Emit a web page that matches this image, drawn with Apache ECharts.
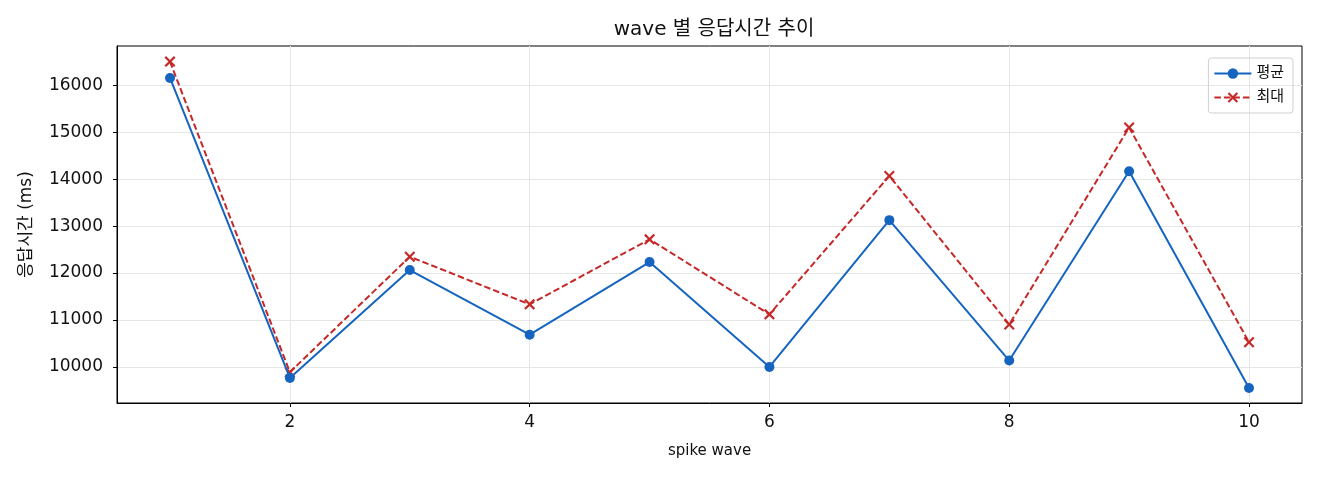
<!DOCTYPE html>
<html>
<head>
<meta charset="utf-8">
<title>wave 별 응답시간 추이</title>
<style>
  html, body { margin: 0; padding: 0; background: #fff; }
  #main { width: 1320px; height: 480px; }
</style>
</head>
<body>
<div id="main"></div>
<script src="https://cdn.jsdelivr.net/npm/echarts@6/dist/echarts.min.js"></script>
<script>
// data
var waves = [1, 2, 3, 4, 5, 6, 7, 8, 9, 10];
var avgMs = [16158, 9765, 12064, 10686, 12235, 10000, 13128, 10135, 14171, 9551];
var maxMs = [16507, 9887, 12348, 11333, 12718, 11120, 14070, 10904, 15103, 10526];
var xTicks = [2, 4, 6, 8, 10];
var yTicks = [10000, 11000, 12000, 13000, 14000, 15000, 16000];

var FONT = '"DejaVu Sans", "Noto Sans CJK KR", sans-serif';
var crossPath = 'path://M0,1.4L1.4,0L5,3.6L8.6,0L10,1.4L6.4,5L10,8.6L8.6,10L5,6.4L1.4,10L0,8.6L3.6,5Z';

function pairs(xs, ys) {
    var out = [];
    for (var i = 0; i < xs.length; i++) out.push([xs[i], ys[i]]);
    return out;
}

var myChart = echarts.init(document.getElementById('main'), null, { renderer: 'canvas' });

var option = {
    animation: false,
    textStyle: { fontFamily: FONT },
    title: {
        text: 'wave 별 응답시간 추이',
        left: 709,
        textAlign: 'center',
        top: 15,
        textStyle: { fontSize: 20, fontWeight: 'normal', color: '#111', fontFamily: FONT }
    },
    legend: {
        orient: 'vertical',
        right: 27,
        top: 58,
        itemWidth: 37,
        itemHeight: 13,
        itemGap: 9,
        padding: [8, 9, 8, 5],
        borderColor: '#d0d0d0',
        borderWidth: 1,
        borderRadius: 3,
        textStyle: { fontSize: 15, color: '#111', fontFamily: FONT },
        data: ['평균', '최대']
    },
    grid: {
        left: 117,
        right: 18,
        top: 46,
        bottom: 77,
        show: true,
        borderColor: '#000',
        borderWidth: 1,
        containLabel: false
    },
    xAxis: {
        type: 'value',
        min: 0.558,
        max: 10.442,
        name: 'spike wave',
        nameLocation: 'middle',
        nameGap: 41,
        nameTextStyle: { fontSize: 15, color: '#111', fontFamily: FONT },
        axisLine: { show: true, lineStyle: { color: '#000', width: 1 } },
        axisTick: { show: true, length: 4, lineStyle: { color: '#000' }, customValues: xTicks },
        axisLabel: { fontSize: 17, color: '#111', margin: 11, customValues: xTicks },
        splitLine: { show: true, lineStyle: { color: '#e6e6e6', width: 1 } }
    },
    yAxis: {
        type: 'value',
        min: 9230,
        max: 16840,
        name: '응답시간 (ms)',
        nameLocation: 'middle',
        nameGap: 82,
        nameTextStyle: { fontSize: 17, color: '#111', fontFamily: FONT },
        axisLine: { show: true, lineStyle: { color: '#000', width: 1 } },
        axisTick: { show: true, length: 4, lineStyle: { color: '#000' }, customValues: yTicks },
        axisLabel: {
            fontSize: 17, color: '#111', margin: 14, customValues: yTicks,
            formatter: function (v) { return String(v); }
        },
        splitLine: { show: true, lineStyle: { color: '#e6e6e6', width: 1 } }
    },
    series: [
        {
            name: '평균',
            type: 'line',
            data: pairs(waves, avgMs),
            symbol: 'circle',
            symbolSize: 10,
            itemStyle: { color: '#1565c0' },
            lineStyle: { color: '#1565c0', width: 2 },
            z: 3
        },
        {
            name: '최대',
            type: 'line',
            data: pairs(waves, maxMs),
            symbol: crossPath,
            symbolSize: 11,
            itemStyle: { color: '#c62828' },
            lineStyle: { color: '#c62828', width: 2, type: [6.5, 3] },
            z: 2
        }
    ]
};

myChart.setOption(option);
</script>
</body>
</html>
